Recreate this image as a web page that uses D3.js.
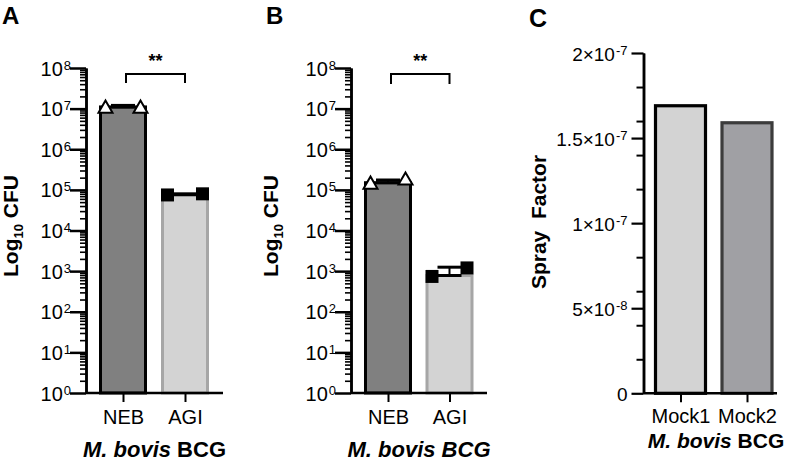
<!DOCTYPE html>
<html><head><meta charset="utf-8">
<script src="https://cdn.jsdelivr.net/npm/d3@7"></script>
<style>
body{margin:0;background:#fff}
svg{display:block}
text{font-family:"Liberation Sans",Arial,Helvetica,sans-serif;fill:#000}
</style></head><body>
<svg id="chart" width="785" height="463"></svg>
<script>
// ---------- data ----------
const logCats = ["NEB", "AGI"];
const aMeans = [1.1e7, 7.6e4];
const aUpper = [1.2e7, 8.0e4];
const aNebPoints = [1.0e7, 1.0e7];
const aAgiPoints = [7.5e4, 8.0e4];
const bMeans = [1.5e5, 780];
const bUpper = [1.75e5, 1250];
const bNebPoints = [1.35e5, 1.7e5];
const bAgiPoints = [740, 1200];
const logDomain = [1, 1e8];
const cCats = ["Mock1", "Mock2"];
const cValues = [1.69e-7, 1.59e-7];
const cDomain = [0, 2e-7];
const cTickLabels = {"0": ["0", ""], "5e-8": ["5×10", "-8"], "1e-7": ["1×10", "-7"], "1.5e-7": ["1.5×10", "-7"], "2e-7": ["2×10", "-7"]};
const sigLabel = "**";

// ---------- styles ----------
const logFills = ["#808080", "#d3d3d3"];
const logStrokes = ["#000000", "#a6a6a6"];
const cFills = ["#d3d3d3", "#a0a0a4"];
const cStrokes = ["#000000", "#3c3c3c"];

const svg = d3.select("#chart");

function styleAxis(sel, w) {
  sel.select(".domain").attr("stroke", "#000").attr("stroke-width", 2.5);
  sel.selectAll(".tick line").attr("stroke", "#000").attr("stroke-width", w);
}

function drawLogPanel(cfg) {
  const g = svg.append("g");
  const y = d3.scaleLog().domain(logDomain).range([393, 68]);
  const x = d3.scalePoint().domain(logCats).range(cfg.centers);
  const bw = 45;

  // bars
  g.selectAll("rect.bar").data(cfg.means).join("rect")
    .attr("x", (d, i) => x(logCats[i]) - bw / 2)
    .attr("width", bw)
    .attr("y", d => y(d))
    .attr("height", d => y(logDomain[0]) - y(d))
    .attr("fill", (d, i) => logFills[i])
    .attr("stroke", (d, i) => logStrokes[i])
    .attr("stroke-width", 3);

  // error bars (mean line, upward SD)
  cfg.means.forEach((m, i) => {
    const cx = x(logCats[i]);
    g.append("line").attr("x1", cx).attr("x2", cx).attr("y1", y(m)).attr("y2", y(cfg.upper[i]))
      .attr("stroke", "#000").attr("stroke-width", 2);
    [m, cfg.upper[i]].forEach(v => {
      g.append("line").attr("x1", cx - 12).attr("x2", cx + 12).attr("y1", y(v)).attr("y2", y(v))
        .attr("stroke", "#000").attr("stroke-width", 3);
    });
  });

  // points
  const off = [-17.5, 17.5];
  const tri = d3.symbol().type(d3.symbolTriangle).size(85);
  const sq = d3.symbol().type(d3.symbolSquare).size(169);
  cfg.nebPoints.forEach((v, j) => {
    g.append("path").attr("d", tri())
      .attr("transform", `translate(${x("NEB") + off[j]},${y(v)})`)
      .attr("fill", "#fff").attr("stroke", "#000").attr("stroke-width", 2);
  });
  cfg.agiPoints.forEach((v, j) => {
    g.append("path").attr("d", sq())
      .attr("transform", `translate(${x("AGI") + off[j]},${y(v)})`)
      .attr("fill", "#000");
  });

  // y axis
  const isPow = v => Math.abs(Math.log10(v) - Math.round(Math.log10(v))) < 1e-9;
  const allTicks = y.ticks();
  const minor = allTicks.filter(v => !isPow(v));
  const major = allTicks.filter(v => isPow(v));
  const gm = g.append("g").attr("transform", `translate(${cfg.axisX},0)`)
    .call(d3.axisLeft(y).tickValues(minor).tickSize(6).tickSizeOuter(0).tickFormat(""));
  styleAxis(gm, 1.6);
  const gM = g.append("g").attr("transform", `translate(${cfg.axisX},0)`)
    .call(d3.axisLeft(y).tickValues(major).tickSize(16).tickSizeOuter(0).tickFormat(""));
  styleAxis(gM, 2.5);
  gM.selectAll(".tick").each(function (d) {
    const t = d3.select(this).append("text")
      .attr("x", -15).attr("y", 7).attr("text-anchor", "end")
      .style("font-size", "20px");
    t.append("tspan").text("10");
    t.append("tspan").attr("dx", 1).attr("dy", -6).style("font-size", "13px").text(Math.round(Math.log10(d)));
  });

  // x axis
  g.append("line").attr("x1", cfg.axisX).attr("x2", cfg.axisEnd).attr("y1", 393).attr("y2", 393)
    .attr("stroke", "#000").attr("stroke-width", 2.5);
  const gx = g.append("g").attr("transform", "translate(0,393)")
    .call(d3.axisBottom(x).tickSize(9).tickSizeOuter(0).tickPadding(8));
  gx.select(".domain").remove();
  gx.selectAll(".tick line").attr("stroke", "#000").attr("stroke-width", 2);
  gx.selectAll(".tick text").style("font-size", "20px").attr("fill", "#000")
    .style("font-family", '"Liberation Sans",Arial,sans-serif');

  // significance bracket
  const xl = x("NEB") + 3, xr = x("AGI");
  g.append("path").attr("d", `M${xl},${cfg.bracketBottom}V74H${xr}V${cfg.bracketBottom}`)
    .attr("fill", "none").attr("stroke", "#000").attr("stroke-width", 2);
  g.append("text").attr("x", (xl + xr) / 2).attr("y", 67).attr("text-anchor", "middle")
    .style("font-size", "18px").style("font-weight", "bold").text(sigLabel);

  // y title
  const yt = g.append("text").attr("transform", `translate(${cfg.yTitleX},226) rotate(-90)`)
    .attr("text-anchor", "middle").style("font-size", "21px").style("font-weight", "bold");
  yt.append("tspan").text("Log");
  yt.append("tspan").attr("dy", 5).style("font-size", "13px").text("10");
  yt.append("tspan").attr("dy", -5).text(" CFU");

  // x title
  const xt = g.append("text").attr("x", (cfg.axisX + cfg.axisEnd) / 2).attr("y", 457)
    .attr("text-anchor", "middle").style("font-size", "22px").style("font-weight", "bold");
  if (cfg.allItalic) {
    xt.append("tspan").style("font-style", "italic").text("M. bovis BCG");
  } else {
    xt.append("tspan").style("font-style", "italic").text("M. bovis");
    xt.append("tspan").text(" BCG");
  }

  // panel letter
  g.append("text").attr("x", cfg.letterX).attr("y", 24).style("font-size", "24px")
    .style("font-weight", "bold").text(cfg.letter);
}

drawLogPanel({letter: "A", letterX: 2, axisX: 86, axisEnd: 223, centers: [123, 185],
  means: aMeans, upper: aUpper, nebPoints: aNebPoints, agiPoints: aAgiPoints,
  bracketBottom: 83, yTitleX: 18, allItalic: false});
drawLogPanel({letter: "B", letterX: 266, axisX: 351, axisEnd: 487, centers: [388, 449.5],
  means: bMeans, upper: bUpper, nebPoints: bNebPoints, agiPoints: bAgiPoints,
  bracketBottom: 84, yTitleX: 278, allItalic: true});

// ---------- panel C ----------
(function () {
  const g = svg.append("g");
  const axisX = 643.5, axisEnd = 777;
  const y = d3.scaleLinear().domain(cDomain).range([393.3, 53]);
  const x = d3.scalePoint().domain(cCats).range([680.5, 747]);
  const bw = 50;

  g.selectAll("rect.bar").data(cValues).join("rect")
    .attr("x", (d, i) => x(cCats[i]) - bw / 2)
    .attr("width", bw)
    .attr("y", d => y(d))
    .attr("height", d => y(0) - y(d))
    .attr("fill", (d, i) => cFills[i])
    .attr("stroke", (d, i) => cStrokes[i])
    .attr("stroke-width", 3.2);

  const minor = y.ticks(8).filter(v => !y.ticks(4).some(m => Math.abs(m - v) < 1e-12));
  const gm = g.append("g").attr("transform", `translate(${axisX},0)`)
    .call(d3.axisLeft(y).tickValues(minor).tickSize(7).tickSizeOuter(0).tickFormat(""));
  styleAxis(gm, 2);
  const gM = g.append("g").attr("transform", `translate(${axisX},0)`)
    .call(d3.axisLeft(y).ticks(4).tickSize(12).tickSizeOuter(0).tickFormat(""));
  styleAxis(gM, 2.2);
  gM.selectAll(".tick").each(function (d) {
    const lab = cTickLabels[String(+d.toPrecision(3))] || [String(d), ""];
    const t = d3.select(this).append("text").attr("x", -16).attr("y", 7)
      .attr("text-anchor", "end").style("font-size", "19px");
    t.append("tspan").text(lab[0]);
    if (lab[1]) t.append("tspan").attr("dx", 1).attr("dy", -6).style("font-size", "13px").text(lab[1]);
  });

  g.append("line").attr("x1", axisX).attr("x2", axisEnd).attr("y1", 393.3).attr("y2", 393.3)
    .attr("stroke", "#000").attr("stroke-width", 2.5);
  const gx = g.append("g").attr("transform", "translate(0,393.3)")
    .call(d3.axisBottom(x).tickSize(9).tickSizeOuter(0).tickPadding(7));
  gx.select(".domain").remove();
  gx.selectAll(".tick line").attr("stroke", "#000").attr("stroke-width", 2);
  gx.selectAll(".tick text").style("font-size", "20px").attr("fill", "#000")
    .style("font-family", '"Liberation Sans",Arial,sans-serif');

  g.append("text").attr("transform", "translate(546,222) rotate(-90)")
    .attr("text-anchor", "middle").style("font-size", "21px").style("font-weight", "bold")
    .style("white-space", "pre").text("Spray  Factor");

  const xt = g.append("text").attr("x", 716).attr("y", 448).attr("text-anchor", "middle")
    .style("font-size", "21px").style("font-weight", "bold");
  xt.append("tspan").style("font-style", "italic").text("M. bovis");
  xt.append("tspan").text(" BCG");

  g.append("text").attr("x", 529).attr("y", 27).style("font-size", "25px")
    .style("font-weight", "bold").text("C");
})();
</script>
</body></html>
